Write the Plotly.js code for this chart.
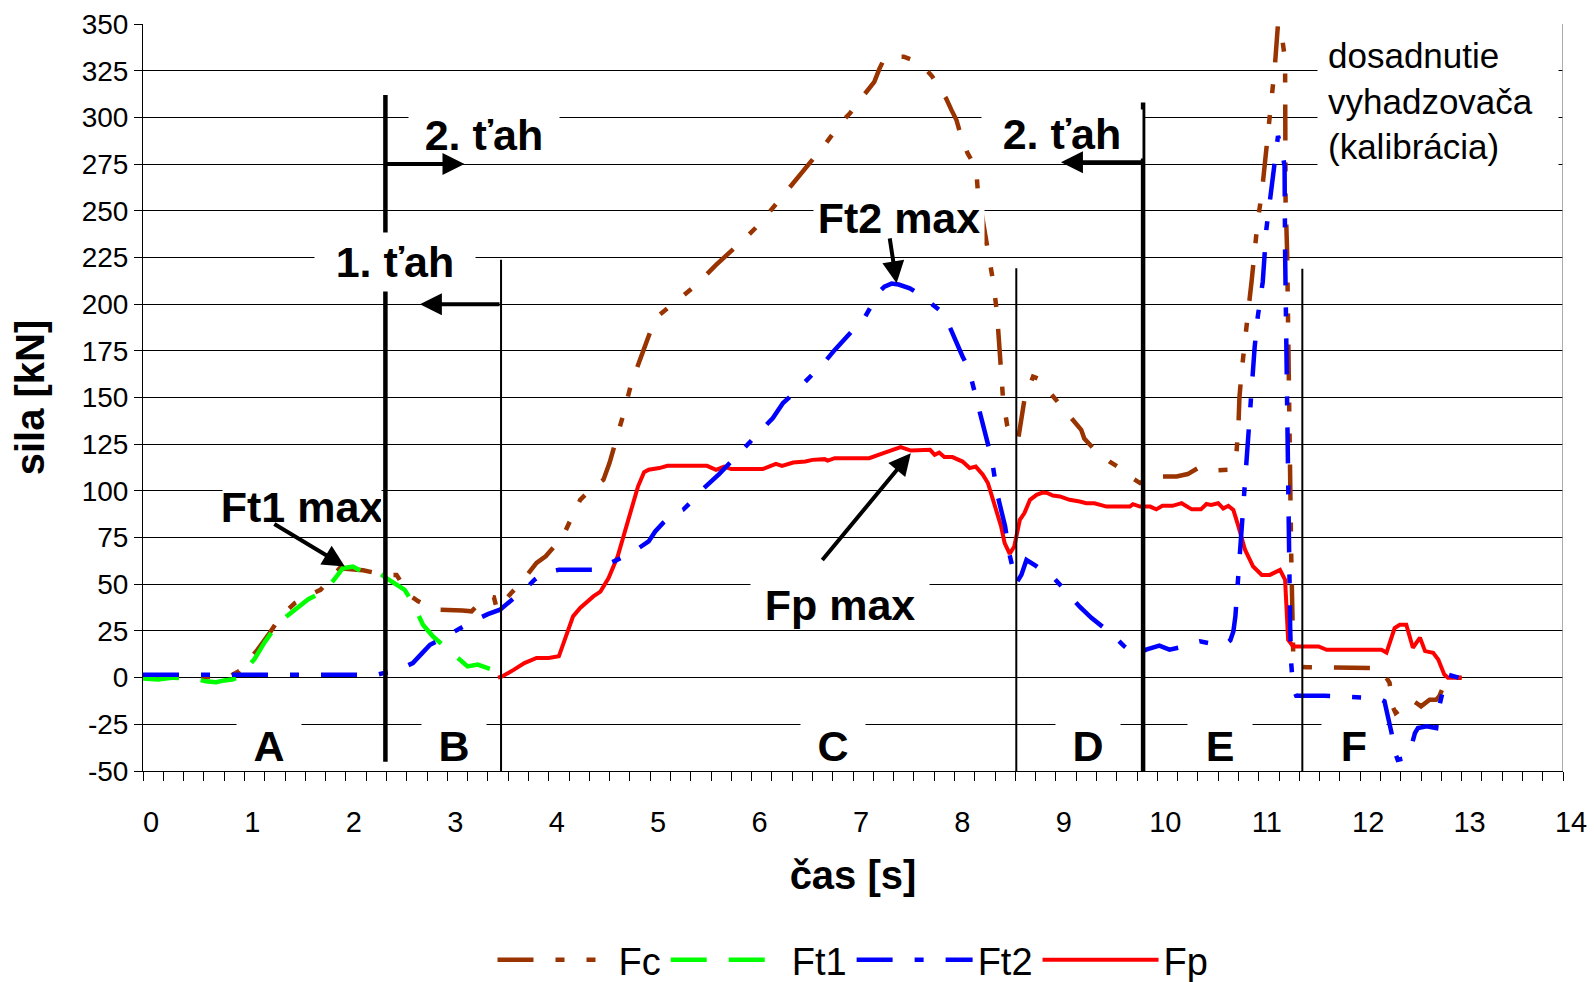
<!DOCTYPE html>
<html><head><meta charset="utf-8">
<script src="https://cdn.plot.ly/plotly-3.0.1.min.js"></script>
<style>html,body{margin:0;padding:0;background:#fff}#chart{width:1594px;height:982px}</style>
</head><body><div id="chart"></div>
<script>
// ---- data (time in s, force in kN) ----
const Fc_t = [0,0.3,0.6,0.85,0.95,1.13,1.25,1.36,1.5,1.61,1.75,1.86,1.94,2.05,2.17,2.3,2.4,2.5,2.63,2.71,2.85,2.93,3.04,3.15,3.24,3.32,3.4,3.46,3.49,3.56,3.63,3.71,3.8,3.88,3.97,4.05,4.14,4.22,4.31,4.42,4.54,4.6,4.66,4.73,4.815,4.9,4.96,5.02,5.07,5.2,5.31,5.45,5.65,5.87,5.97,6.08,6.18,6.24,6.43,6.55,6.72,6.89,6.97,7.05,7.14,7.21,7.26,7.31,7.42,7.5,7.6,7.68,7.78,7.87,7.92,7.97,8.02,8.07,8.13,8.18,8.215,8.23,8.27,8.33,8.385,8.42,8.44,8.46,8.48,8.52,8.545,8.59,8.63,8.69,8.775,8.83,8.87,8.92,8.98,9.04,9.15,9.25,9.28,9.4,9.53,9.61,9.72,9.83,9.9,9.96,10.0,10.19,10.3,10.4,10.5,10.6,10.71,10.76,10.78,10.8,10.81,10.83,10.86,10.89,10.93,10.96,10.99,11.03,11.06,11.09,11.125,11.16,11.19,11.22,11.26,11.262,11.265,11.28,11.29,11.3,11.315,11.32,11.33,11.34,11.37,11.47,11.68,12.04,12.2,12.24,12.29,12.32,12.35,12.42,12.505,12.555,12.6,12.685,12.75,12.78,12.85,12.95,13.0];
const Fc_v = [0,0,0,0.5,3.6,15,24,33,40,43.5,47,53.3,58.6,58,57.5,56,55,55,44,41,37,36.4,36.4,36,35.5,40,43.5,43,36.4,41,45.3,49.7,56,61.4,65,70,75.6,85,95.2,101,106,115,125.7,139.8,157.7,171,180,188,193.3,199,203.2,210,221,231.7,237,243,249.5,254,266.5,274,285.2,297.7,302.2,308,313.8,319,326,331.6,332.5,332.5,330.5,328,322,314.7,310,304,298.6,289,280.8,276,271.9,261,248.8,228,211,195,181,166,148.7,135,131,127,128.2,148.8,161.2,160,158.5,154,150,146,139,132.7,128,121,115.7,113,108,104.2,106,106.8,107.7,107.7,109,112.2,110.4,111,111.3,115.7,120,135,150,163,180,193.2,212.2,228.3,244.5,259.3,276.7,292.7,309,328,350,347,330.7,298,255,228.5,175,120.8,94,67,40,13.3,6,5.5,5.5,5.5,5,1.6,-2.8,-15.4,-19,-16.3,-11.8,-13.6,-15.4,-11.8,-11.8,-10,-1.1,0,0];

const Ft1_t = [0,0.15,0.3,0.5,0.62,0.72,0.8,0.88,0.95,1.02,1.1,1.2,1.31,1.42,1.53,1.63,1.775,1.857,1.92,1.97,2.07,2.17,2.26,2.33,2.4,2.5,2.58,2.66,2.76,2.86,2.97,3.08,3.2,3.3,3.4,3.48,3.5];
const Ft1_v = [-0.5,-1,0,-0.5,-2,-2.5,-1.5,-1,0.5,5,10,19,27.4,33,38.1,42,46.1,50.6,55,58.6,59.5,56.5,56,56,53.3,50,47,40,28.3,22,16.7,11,6,7,5,3.6,0];

const Ft2_t = [0,0.5,1.0,1.5,2.0,2.3,2.37,2.43,2.55,2.66,2.75,2.83,2.925,3.01,3.1,3.22,3.3,3.4,3.52,3.6,3.68,3.78,3.86,3.95,4.1,4.2,4.44,4.51,4.6,4.75,4.85,4.985,5.05,5.13,5.22,5.325,5.42,5.53,5.68,5.835,5.95,6.07,6.21,6.31,6.43,6.55,6.63,6.72,6.82,6.935,7.03,7.12,7.2,7.26,7.31,7.38,7.45,7.56,7.65,7.73,7.81,7.89,7.96,8.02,8.08,8.14,8.2,8.23,8.3,8.37,8.42,8.5,8.54,8.58,8.61,8.66,8.71,8.8,8.9,8.97,9.07,9.15,9.235,9.35,9.48,9.56,9.67,9.78,9.89,10.02,10.12,10.25,10.35,10.42,10.55,10.665,10.72,10.75,10.77,10.79,10.8,10.83,10.86,10.895,10.93,10.96,10.99,11.04,11.075,11.125,11.16,11.19,11.22,11.255,11.26,11.27,11.29,11.3,11.31,11.32,11.34,11.37,11.65,11.83,11.93,12.18,12.24,12.275,12.31,12.34,12.37,12.455,12.505,12.54,12.57,12.655,12.75,12.78,12.83,12.865,12.92,12.97];
const Ft2_v = [1.5,1.5,1.5,1.5,1.5,1.5,2.4,3,5,7.8,13,17.6,20.3,23,26,29.2,31.4,34,36.4,40,43.5,48,52.4,56,57.8,57.8,57.8,58.8,61,65,68,72.9,78.3,83,87.2,89.9,95,101.5,109,117.5,124,131,139,147,153,159.5,164,169,175.5,182.6,188,193.3,201,206.7,209.4,211,210.5,208.5,205.5,202.3,198.5,195.2,187,179,172,165.6,153,147,131,116.6,98.8,80.9,66.7,58,50.6,55,63,60,56,54,47.9,43,38,32,26.5,23,17,12.2,15,17.1,15,16.5,18.6,19.4,18,17.6,20,24.7,32.8,48.8,56,78,99,128,158,177,193,212,240,261,277,290,285,274,228,175,121,67,27,8,-6,-9.7,-9.7,-10,-10,-11,-12.7,-20.8,-29.7,-39.5,-44,-43,-36.8,-29.7,-27,-26,-27,-15.4,-3.8,1.6,0.7,0];

const Fp_t = [3.5,3.54,3.65,3.76,3.88,4.0,4.1,4.17,4.24,4.31,4.44,4.51,4.59,4.68,4.78,4.88,4.94,4.985,5.09,5.17,5.56,5.65,5.73,5.8,6.11,6.17,6.24,6.3,6.41,6.53,6.6,6.72,6.75,6.82,7.16,7.3,7.4,7.47,7.57,7.76,7.805,7.85,7.9,7.98,8.08,8.15,8.21,8.28,8.33,8.4,8.46,8.495,8.545,8.59,8.645,8.69,8.745,8.81,8.87,8.92,8.97,9.04,9.135,9.235,9.3,9.38,9.45,9.5,9.73,9.76,9.83,9.93,9.99,10.05,10.15,10.24,10.34,10.43,10.485,10.53,10.6,10.65,10.7,10.75,10.8,10.865,10.945,11.03,11.11,11.21,11.26,11.28,11.29,11.34,11.59,11.67,12.21,12.26,12.34,12.39,12.455,12.52,12.59,12.64,12.72,12.77,12.83,12.865,13.0];
const Fp_v = [0,0.6,4,7.8,10.5,10.5,11.4,22,32.8,37.3,43.5,46.1,53.3,65,84.5,102.3,110,111.3,112.2,113.4,113.4,111.3,113,111.7,111.7,113,114.5,113.4,115.2,115.7,116.6,117,116.2,117.5,117.5,120.2,122,123.4,121.6,122,119.3,120.5,118.1,118.1,115.7,112.2,113,108.6,104.2,91.7,81,72,66.3,70.2,84.5,88.1,95.2,97.9,99.1,98.8,97.5,97,95.2,94.3,93.4,93.4,92.5,91.6,91.6,92.9,91.6,91.6,90.1,92,92,93.4,90.1,90.1,93,92.5,93.4,90.6,92,89.8,81,68.5,59.5,55,55,57.7,52.4,35,20.3,16.7,16.7,14.9,14.9,13.4,26.5,28.3,28.3,16,21.4,14.2,13.3,9.7,1.6,0,0];

const seriesNames = ['Fc','Ft1','Ft2','Fp'];
const yTickVals = [-50,-25,0,25,50,75,100,125,150,175,200,225,250,275,300,325,350];
const yTickText = ['-50','-25','0','25','50','75','100','125','150','175','200','225','250','275','300','325','350'];
const sectionLetters = ['A','B','C','D','E','F'];
const sectionLetterT = [1.24,3.07,6.806,9.32,10.615,11.935];
const phaseLabels = ['2. ťah','1. ťah','2. ťah'];
const maxLabels = ['Ft1 max','Ft2 max','Fp max'];
const noteText = 'dosadnutie<br>vyhadzovača<br>(kalibrácia)';

// ---- styling / layout ----
const FONT = 'Liberation Sans, Arial, sans-serif';
const W = 4.5;
const traces = [
  {x:Fc_t, y:Fc_v, name:seriesNames[0], legendrank:1, mode:'lines', line:{color:'#993300', width:W, dash:'36px,22px,9px,22px,9px,22px'}},
  {x:Ft1_t, y:Ft1_v, name:seriesNames[1], legendrank:2, mode:'lines', line:{color:'#00FF00', width:W, dash:'36px,22px'}},
  {x:Fp_t, y:Fp_v, name:seriesNames[3], legendrank:4, mode:'lines', line:{color:'#FF0000', width:4}},
  {x:Ft2_t, y:Ft2_v, name:seriesNames[2], legendrank:3, mode:'lines', line:{color:'#0000FF', width:W, dash:'36px,22px,9px,22px'}}
];

const sec = [ // vertical phase boundaries
  {x:2.39, y0:-45, y1:312, w:4.5},
  {x:3.53, y0:-50, y1:223.7, w:2},
  {x:8.61, y0:-50, y1:219.2, w:2},
  {x:9.86, y0:-50, y1:308, w:4.5},
  {x:11.43, y0:-50, y1:219, w:2}
];
const shapes = sec.map(s => ({type:'line', xref:'x', yref:'y', x0:s.x, x1:s.x, y0:s.y0, y1:s.y1, line:{color:'black', width:s.w}}));
shapes.push({type:'line', xref:'x', yref:'y', x0:14, x1:14, y0:-50, y1:350, line:{color:'#909090', width:1.5}});

const bold = (t)=>'<b>'+t+'</b>';
const txt = (x,y,text,w,h,size)=>({x, y, xref:'x', yref:'y', text:bold(text), showarrow:false, bgcolor:'white', borderpad:0, width:w, height:h, align:'center', valign:'middle', font:{family:FONT, size:size, color:'black'}});
const annotations = [
  txt(3.358, 290.6, phaseLabels[0], 150, 48, 43),
  txt(2.486, 222.6, phaseLabels[1], 160, 58, 43),
  txt(9.06, 291, phaseLabels[2], 160, 48, 43),
  txt(1.565, 91.5, maxLabels[0], 158, 48, 43),
  txt(7.45, 246, maxLabels[1], 170, 48, 43),
  txt(6.87, 39, maxLabels[2], 178, 48, 43)
];
sectionLetters.forEach((L,i)=>annotations.push(txt(sectionLetterT[i], -36.7, L, 64, 46, 43)));
annotations.push({x:11.578, y:309, xref:'x', yref:'y', xanchor:'left', yanchor:'middle', text:noteText, showarrow:false, bgcolor:'white', borderpad:10, width:220, height:130, align:'left', valign:'middle', font:{family:FONT, size:35, color:'black'}});

const arr = (x,y,ax,ay)=>({x, y, ax, ay, xref:'x', yref:'y', axref:'x', ayref:'y', text:'', showarrow:true, arrowhead:2, arrowsize:1.1, arrowwidth:4, arrowcolor:'black', standoff:0, startstandoff:0});
annotations.push(arr(3.17, 275, 2.39, 275));
annotations.push(arr(2.73, 200, 3.53, 200));
annotations.push(arr(9.05, 276, 9.86, 276));
annotations.push(arr(1.99, 59.5, 1.28, 82.7));
annotations.push(arr(7.43, 211.2, 7.36, 236));
annotations.push(arr(7.57, 120.2, 6.685, 62.2));

const layout = {
  width:1594, height:982,
  margin:{l:143, r:31, t:24, b:211},
  paper_bgcolor:'white', plot_bgcolor:'white',
  font:{family:FONT, color:'black'},
  showlegend:true,
  legend:{orientation:'h', x:0.5, xanchor:'center', yref:'container', y:0.0224, yanchor:'middle', font:{family:FONT, size:38, color:'black'}, itemwidth:116, bgcolor:'rgba(0,0,0,0)'},
  xaxis:{range:[0,14], tick0:0, dtick:1, ticks:'outside', ticklen:9, tickwidth:1, tickcolor:'black',
    showgrid:false, zeroline:false, showline:true, linecolor:'black', linewidth:1,
    tickfont:{family:FONT, size:29, color:'black'}, ticklabelshift:8, ticklabelstandoff:16,
    minor:{dtick:0.2, ticks:'outside', ticklen:9, tickwidth:1, tickcolor:'black', showgrid:false},
    title:{text:'<b>čas [s]</b>', font:{family:FONT, size:40, color:'black'}, standoff:24}, fixedrange:true},
  yaxis:{range:[-50,350], tickmode:'array', tickvals:yTickVals, ticktext:yTickText, ticks:'outside', ticklen:8, tickwidth:1, tickcolor:'black',
    showgrid:true, gridcolor:'black', gridwidth:1, zeroline:false, showline:true, linecolor:'black', linewidth:1,
    tickfont:{family:FONT, size:28, color:'black'},
    title:{text:'<b>sila [kN]</b>', font:{family:FONT, size:40, color:'black'}, standoff:24}, fixedrange:true},
  shapes, annotations
};
Plotly.newPlot('chart', traces, layout, {displayModeBar:false, staticPlot:true});
</script>
</body></html>
